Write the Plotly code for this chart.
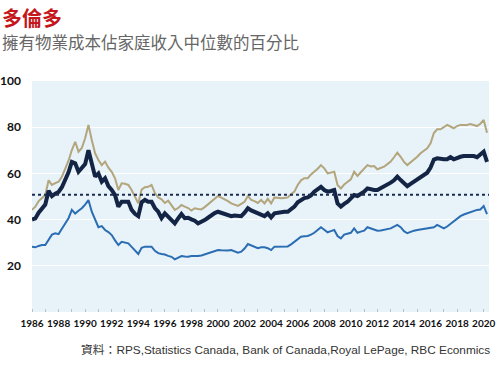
import plotly.graph_objects as go

start_year = 1986
quarters_per_year = 4

detached = [
    44.2, 45.6, 48, 49.5,
    50.6, 57, 55, 55.8,
    56.4, 58.5, 62, 65.5,
    70.1, 73.7, 69.4, 71,
    75.2, 81, 74.5, 68.7,
    65.8, 63.6, 65.1, 62.5,
    60.7, 57.9, 52.8, 55.7,
    55.5, 55, 52.8, 50,
    47, 53, 54, 54.2,
    55, 51.5, 49.6, 48.8,
    47.2, 48.2, 46, 44.2,
    45, 46.3, 45.6, 45,
    43.9, 44.9, 44.6, 44.4,
    45.4, 46.5, 47.7, 49,
    50.2, 49.5, 48.8, 48,
    47, 46.5, 45.9, 46.8,
    47.7, 50.2, 48.5, 48,
    47.2, 48.5, 47, 49,
    47, 49.6, 49.4, 49.2,
    49.4, 49.6, 51, 52.1,
    55, 57, 57.9, 57.9,
    59.5, 60.7, 62, 63.6,
    62.2, 60, 60.5, 60.7,
    55, 53.5, 55.2, 56.2,
    57.4, 60.7, 58.9, 60.5,
    62.2, 63.6, 63, 63.2,
    61.8, 62.3, 62.9, 64,
    65.1, 67, 69, 67.2,
    65, 63.6, 64.8, 65.8,
    67.2, 68.7, 70, 70.9,
    73, 77.5, 79.1, 79.1,
    80, 81, 80.3, 79.5,
    80.5, 81, 81, 81,
    81.4, 80.8, 80.5, 81.5,
    83.1, 77.6,
]

aggregate = [
    40, 40.5, 43, 44.5,
    46.5, 52.5, 50.2, 51.2,
    52, 54, 57, 60.5,
    65, 64.4, 60.7, 62.5,
    64, 70, 64.4, 58.6,
    60, 56.4, 57.9, 54.5,
    52.8, 50.6, 45.6, 47.7,
    47.7, 47.7, 44.2, 42.5,
    41.5, 47.5, 48.5, 47.7,
    47.7, 45, 43.4, 40.6,
    42.7, 41.3, 40, 38.4,
    40.5, 42.4, 40.6, 40.8,
    40.1, 39.5, 38.4, 39,
    39.8, 40.8, 42, 42.8,
    43.4, 43, 42.7, 42.2,
    41.5, 41.8, 41.5, 41.5,
    43, 44.9, 44, 43.4,
    42.5, 42, 41.5, 42.7,
    41, 42.7, 43, 43.4,
    43.4, 43.4, 44.5, 45.6,
    47.5, 48.5, 49.3, 49.6,
    50.5, 52.1, 53, 54.2,
    52.8, 52.1, 52.4, 52.8,
    47, 45.6, 46.8, 47.7,
    49.2, 50.6, 50.2, 51,
    52.1, 53.5, 53, 52.8,
    52.8, 53.5, 54.2, 55,
    56, 57, 58.6, 57.1,
    55.8, 54.5, 55.5, 56.4,
    57.5, 58.6, 59.5, 60.3,
    62.5, 66, 66.5, 66.1,
    66.1, 66.1, 67, 66.1,
    66.8, 67.2, 67.5, 67.5,
    67.5, 67.5, 67, 68,
    69.4, 65,
]

condo = [
    28.3, 28, 28.6, 29,
    29, 31.5, 33.5, 34.1,
    33.7, 36, 38.5, 40.6,
    44.2, 42.6, 43.8, 44.9,
    46.5, 48.5, 43.4, 39.8,
    36.7, 37.2, 35.5, 34.6,
    33.3, 31, 29, 30.4,
    30, 29.7, 28.2, 26.5,
    25.1, 27.8, 28.3, 28.3,
    28.3, 26.5, 25.5, 25.1,
    24.9, 24.3, 23.9, 22.8,
    23.5, 24.2, 24, 23.9,
    24.2, 24.1, 24.2, 24.5,
    25, 25.5, 26.1, 26.4,
    26.8, 26.7, 26.5, 26.6,
    26.8, 26.3, 25.7, 26.1,
    27.5, 29.4, 28.8, 28.3,
    27.6, 28, 28, 27.6,
    26.8, 28.3, 28.3, 28.3,
    28.3, 28.4, 29.3, 30.4,
    31.5, 32.6, 32.8, 32.9,
    33.5, 34.3, 35.5, 36.7,
    35.6, 34.5, 35, 35.5,
    32.9, 31.9, 33.5, 33.8,
    34.3, 36.2, 34.3, 34.8,
    35.2, 36.7, 36.2, 35.6,
    35.2, 35.3, 35.5, 35.8,
    36.2, 37, 37.7, 36.7,
    35, 34.1, 34.8, 35.2,
    35.5, 35.8, 36, 36.2,
    36.5, 36.7, 37.7, 37,
    36.2, 37, 38.2, 39.1,
    40.3, 41.5, 42.2, 42.7,
    43.3, 43.9, 44.2, 44.4,
    45.9, 42.4,
]

long_run_average = 50.8
x_tick_years = list(range(1986, 2021, 2))
y_tick_values = [20, 40, 60, 80, 100]

dates = [start_year + i / quarters_per_year for i in range(len(aggregate))]

fig = go.Figure()
fig.add_trace(go.Scatter(x=dates, y=detached, mode="lines",
                         line=dict(color="#b3a57c", width=2), showlegend=False))
fig.add_trace(go.Scatter(x=dates, y=condo, mode="lines",
                         line=dict(color="#2a6db3", width=2), showlegend=False))
fig.add_trace(go.Scatter(x=dates, y=aggregate, mode="lines",
                         line=dict(color="#142445", width=4), showlegend=False))
fig.add_trace(go.Scatter(x=[1986, 2020.4], y=[long_run_average] * 2, mode="lines",
                         line=dict(color="#1c2d4f", width=2, dash="dot"), showlegend=False))

fig.update_layout(
    width=500, height=368,
    margin=dict(l=32, r=11, t=81, b=56, autoexpand=False),
    paper_bgcolor="white",
    plot_bgcolor="#e7f2f9",
    font=dict(family="Noto Sans CJK TC, Lato, sans-serif", color="#111"),
    xaxis=dict(
        range=[1986, 2020.4],
        tickvals=x_tick_years,
        ticktext=[str(y) for y in x_tick_years],
        tickfont=dict(family="Lato", size=10, color="#111", weight="bold"),
        showgrid=False, zeroline=False, showline=False, automargin=False,
        ticks="", ticklabelstandoff=4,
        minor=dict(dtick=1, ticks="inside", ticklen=3, tickcolor="#b8c2cc", tick0=1986),
    ),
    yaxis=dict(
        range=[0, 100],
        tickvals=y_tick_values,
        tickfont=dict(family="Lato", size=12, color="#111", weight="bold"),
        showgrid=True, gridcolor="#ffffff", gridwidth=1, automargin=False,
        zeroline=False, showline=False, ticks="", ticklabelstandoff=10,
    ),
)

fig.add_annotation(text="<b>多倫多</b>", xref="paper", yref="paper",
                   x=-0.06, y=1.0, xanchor="left", yanchor="middle",
                   xshift=-5, yshift=64, showarrow=False,
                   font=dict(family="Noto Sans CJK TC", size=20, color="#c4161c"))
fig.add_annotation(text="擁有物業成本佔家庭收入中位數的百分比", xref="paper", yref="paper",
                   x=-0.06, y=1.0, xanchor="left", yanchor="middle",
                   xshift=-5, yshift=39, showarrow=False,
                   font=dict(family="Noto Sans CJK TC", size=16.5, color="#666666"))
fig.add_annotation(text="資料：RPS,Statistics Canada, Bank of Canada,Royal LePage, RBC Econmics",
                   xref="paper", yref="paper", x=1.006, y=0, xanchor="right", yanchor="middle",
                   yshift=-38, showarrow=False,
                   font=dict(family="Liberation Sans, Noto Sans CJK TC", size=11.8, color="#333333"))

fig.write_html("out.html", post_script="document.body.style.margin='0';",
               config={"displayModeBar": False})
